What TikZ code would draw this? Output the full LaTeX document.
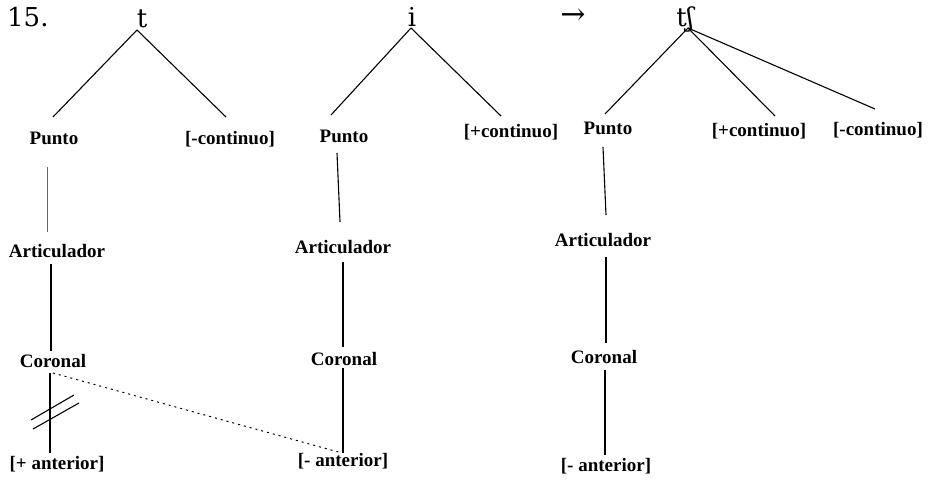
\documentclass[tikz,border=0pt]{standalone}
\usepackage{fontspec}
\setmainfont{Liberation Serif}
\newfontfamily\ipafont{DejaVu Serif}
\usetikzlibrary{calc}
\tikzset{
  lbl/.style={anchor=base,inner sep=0pt,font=\bfseries\fontsize{19}{19}\selectfont},
  top/.style={anchor=base,inner sep=0pt,font=\ipafont\fontsize{26}{26}\selectfont},
  branch/.style={line width=1.1pt,black},
  faint/.style={line width=0.7pt,black!60},
  assoc/.style={line width=1pt,dash pattern=on 2pt off 4pt},
}
\begin{document}
\begin{tikzpicture}[x=1pt,y=-1pt]
\path[use as bounding box,fill=white] (0,0) rectangle (944,481);
% top row
\node[top,anchor=base west] (num) at (7,27) {15.};
\node[top] (t1) at (142,28) {t};
\node[top] (i2) at (412,27) {i};
\node[anchor=center,inner sep=0pt,font=\ipafont\fontsize{30}{30}\selectfont] (arr) at (573,17) {→};
\node[top] (tsh) at (685,27) {tʃ};
% tree 1
\node[lbl] (p1) at (54,145) {Punto};
\node[lbl] (mc1) at (230,145) {[-continuo]};
\node[lbl] (a1) at (57,257) {Articulador};
\node[lbl] (c1) at (53,367) {Coronal};
\node[lbl] (an1) at (57,469) {[+ anterior]};
% tree 2
\node[lbl] (p2) at (344,143) {Punto};
\node[lbl] (pc2) at (511,138) {[+continuo]};
\node[lbl] (a2) at (343,253) {Articulador};
\node[lbl] (c2) at (344,365) {Coronal};
\node[lbl] (an2) at (343,466) {[- anterior]};
% tree 3
\node[lbl] (p3) at (608,135) {Punto};
\node[lbl] (pc3) at (759,137) {[+continuo]};
\node[lbl] (mc3) at (878,136) {[-continuo]};
\node[lbl] (a3) at (603,246) {Articulador};
\node[lbl] (c3) at (604,363) {Coronal};
\node[lbl] (an3) at (606,471) {[- anterior]};
% connectors tree 1
\draw[branch] ($(t1.base)+(-5,2)$) -- ($(p1.base)+(-1,-28)$);
\draw[branch] ($(t1.base)+(-5,2)$) -- ($(mc1.base)+(-4,-28)$);
\draw[faint] ($(p1.base)+(-7,22)$) -- ($(a1.base)+(-10,-25)$);
\draw[branch] ($(a1.base)+(-6,7)$) -- ($(c1.base)+(-2,-16)$);
\draw[branch] ($(c1.base)+(-3,6)$) -- ($(an1.base)+(-7,-16)$);
\draw[assoc] ($(c1.base)+(0,6)$) -- ($(an2.base)+(-1,-13)$);
% delinking mark
\draw[branch] ($(c1.base)+(-22,53)$) -- ($(c1.base)+(21,28)$);
\draw[branch] ($(c1.base)+(-20,62)$) -- ($(c1.base)+(26,36)$);
% connectors tree 2
\draw[branch] ($(i2.base)+(-1,1)$) -- ($(p2.base)+(-13,-28)$);
\draw[branch] ($(i2.base)+(-1,1)$) -- ($(pc2.base)+(-10,-22)$);
\draw[branch] ($(p2.base)+(-7,10)$) -- ($(a2.base)+(-3,-31)$);
\draw[branch] ($(a2.base)+(0,9)$) -- ($(c2.base)+(-1,-18)$);
\draw[branch] ($(c2.base)+(-1,3)$) -- ($(an2.base)+(0,-13)$);
% connectors tree 3
\draw[branch] ($(tsh.base)+(3,1)$) -- ($(p3.base)+(-3,-21)$);
\draw[branch] ($(tsh.base)+(3,1)$) -- ($(pc3.base)+(16,-21)$);
\draw[branch] ($(tsh.base)+(3,1)$) -- ($(mc3.base)+(-3,-27)$);
\draw[branch] ($(p3.base)+(-5,12)$) -- ($(a3.base)+(3,-31)$);
\draw[branch] ($(a3.base)+(3,11)$) -- ($(c3.base)+(2,-20)$);
\draw[branch] ($(c3.base)+(1,7)$) -- ($(an3.base)+(-1,-16)$);
\end{tikzpicture}
\end{document}
